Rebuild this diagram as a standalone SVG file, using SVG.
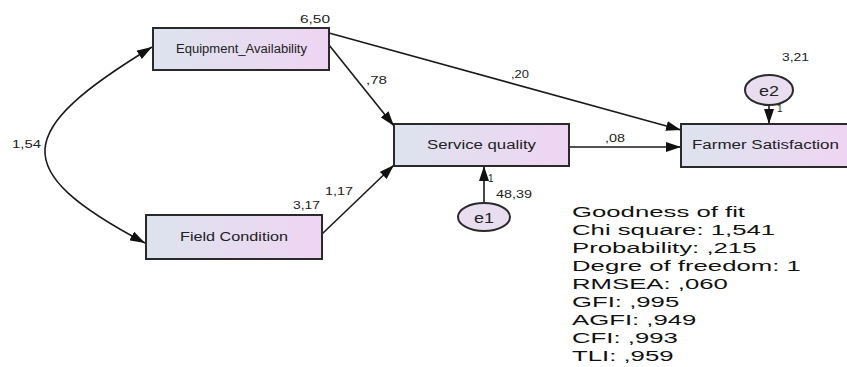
<svg xmlns="http://www.w3.org/2000/svg" width="847" height="367" viewBox="0 0 847 367">
<defs>
<linearGradient id="boxg" x1="0" y1="0" x2="1" y2="0">
<stop offset="0" stop-color="#dde3ee"/>
<stop offset="1" stop-color="#efd5f3"/>
</linearGradient>
<marker id="ah" markerUnits="userSpaceOnUse" markerWidth="15" markerHeight="10" viewBox="0 0 15 10" refX="15" refY="5" orient="auto-start-reverse">
<path d="M0,0 L15,5 L0,10 Z" fill="#111"/>
</marker>
<style>
.box{fill:url(#boxg);stroke:#2a2a2a;stroke-width:2}
.ell{fill:#e9ddf0;stroke:#2a2a2a;stroke-width:2}
.lbl{font-family:"Liberation Sans",Arial,sans-serif;fill:#222}
.node{font-size:12px}
.num{font-size:10px}
.con{fill:none;stroke:#1a1a1a;stroke-width:1.6}
.arr{marker-end:url(#ah)}
.fit{font-family:"Liberation Sans",Arial,sans-serif;font-size:15.5px;fill:#111}
</style>
</defs>
<rect width="847" height="367" fill="#ffffff"/>

<g id="connectors">
<path class="con" d="M152,47 C14,131 7,170 145,243" marker-start="url(#ah)" marker-end="url(#ah)"/>
<path class="con arr" d="M329,45 L394,126"/>
<path class="con arr" d="M329,33 L681,130"/>
<path class="con arr" d="M322,234 L394,165"/>
<path class="con arr" d="M569,147 L681,147"/>
<path class="con arr" d="M484,203 L484,166"/>
<path class="con arr" d="M769,105 L769,124"/>
</g>

<g id="equipment">
<rect class="box" x="153" y="28" width="176" height="42"/>
<text class="lbl node" x="176" y="53" font-size="11" textLength="131" lengthAdjust="spacingAndGlyphs">Equipment_Availability</text>
<text class="lbl num" x="300" y="23" textLength="30" lengthAdjust="spacingAndGlyphs">6,50</text>
</g>

<g id="field">
<rect class="box" x="146" y="215" width="176" height="44"/>
<text class="lbl node" x="180" y="241" font-size="12.5" textLength="108" lengthAdjust="spacingAndGlyphs">Field Condition</text>
<text class="lbl num" x="293" y="209" textLength="27" lengthAdjust="spacingAndGlyphs">3,17</text>
</g>

<g id="service">
<rect class="box" x="394" y="124" width="175" height="42"/>
<text class="lbl node" x="427" y="149" font-size="12.5" textLength="109" lengthAdjust="spacingAndGlyphs">Service quality</text>
</g>

<g id="farmer">
<rect class="box" x="681" y="124" width="172" height="43"/>
<text class="lbl node" x="692" y="149" font-size="12.5" textLength="147" lengthAdjust="spacingAndGlyphs">Farmer Satisfaction</text>
</g>

<g id="e1">
<ellipse class="ell" cx="484" cy="217" rx="26" ry="14"/>
<text class="lbl" x="484" y="223" font-size="15" text-anchor="middle" textLength="20" lengthAdjust="spacingAndGlyphs">e1</text>
<text class="lbl num" x="488" y="182">1</text>
<text class="lbl num" x="496" y="198" textLength="36" lengthAdjust="spacingAndGlyphs">48,39</text>
</g>

<g id="e2">
<ellipse class="ell" cx="769" cy="90" rx="24" ry="15"/>
<text class="lbl" x="769" y="96" font-size="15" text-anchor="middle" textLength="20" lengthAdjust="spacingAndGlyphs">e2</text>
<text class="lbl num" x="777" y="112">1</text>
<text class="lbl num" x="782" y="61" textLength="27" lengthAdjust="spacingAndGlyphs">3,21</text>
</g>

<g id="labels">
<text class="lbl num" x="12" y="148" textLength="29" lengthAdjust="spacingAndGlyphs">1,54</text>
<text class="lbl num" x="325" y="195" textLength="28" lengthAdjust="spacingAndGlyphs">1,17</text>
<text class="lbl num" x="366" y="84" textLength="21" lengthAdjust="spacingAndGlyphs">,78</text>
<text class="lbl num" x="511" y="78" textLength="18" lengthAdjust="spacingAndGlyphs">,20</text>
<text class="lbl num" x="605" y="142" textLength="20" lengthAdjust="spacingAndGlyphs">,08</text>
</g>

<g id="fit" transform="translate(572 0) scale(1.66 1)">
<text class="fit" x="0" y="217">Goodness of fit</text>
<text class="fit" x="0" y="235">Chi square: 1,541</text>
<text class="fit" x="0" y="253">Probability: ,215</text>
<text class="fit" x="0" y="271">Degre of freedom: 1</text>
<text class="fit" x="0" y="289">RMSEA: ,060</text>
<text class="fit" x="0" y="307">GFI: ,995</text>
<text class="fit" x="0" y="325">AGFI: ,949</text>
<text class="fit" x="0" y="343">CFI: ,993</text>
<text class="fit" x="0" y="361">TLI: ,959</text>
</g>
</svg>
